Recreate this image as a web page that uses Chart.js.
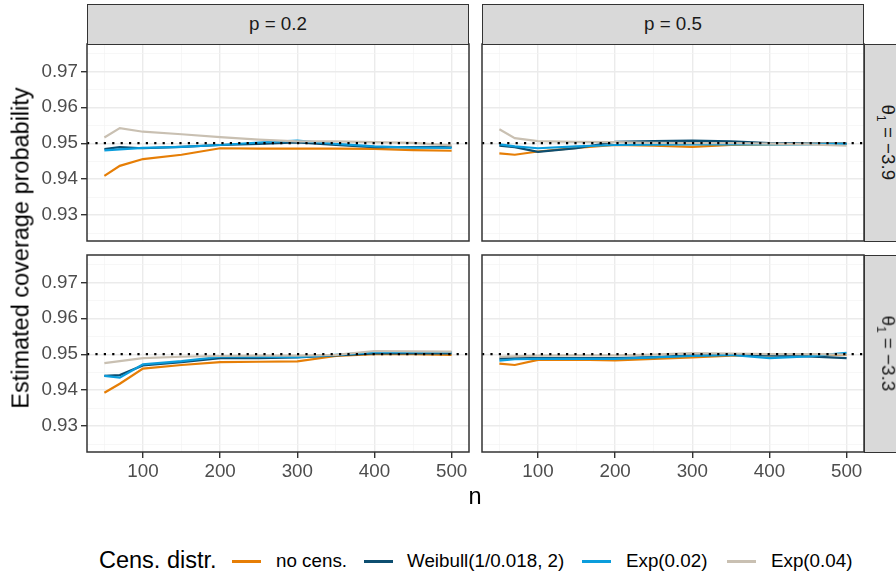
<!DOCTYPE html>
<html>
<head>
<meta charset="utf-8">
<script src="https://cdn.jsdelivr.net/npm/chart.js@4.4.1/dist/chart.umd.min.js"></script>
<style>
  body { margin: 0; width: 896px; height: 576px; background: #fff; position: relative; overflow: hidden;
         font-family: "Liberation Sans", Arial, sans-serif; }
  canvas { position: absolute; }
  .strip { position: absolute; box-sizing: border-box; background: #d9d9d9; border: 1.5px solid #333;
           color: #1a1a1a; font-size: 18.8px; display: flex; align-items: center; justify-content: center; }
  .strip-r span { transform: rotate(90deg); white-space: nowrap; display: inline-block; margin-left: 6px; }
  .title { position: absolute; color: #000; font-size: 23.5px; white-space: nowrap; }
  .key { position: absolute; height: 2.6px; width: 29px; top: 560px; }
  .lab { position: absolute; top: 550px; font-size: 18.8px; color: #000; white-space: nowrap; }
</style>
</head>
<body>
<canvas id="cTL" width="471" height="229" style="left:14px;top:28px"></canvas>
<canvas id="cTR" width="414" height="229" style="left:466px;top:28px"></canvas>
<canvas id="cBL" width="471" height="269" style="left:14px;top:239px"></canvas>
<canvas id="cBR" width="414" height="269" style="left:466px;top:239px"></canvas>

<div class="strip" style="left:87px;top:4px;width:382px;height:40.5px">p = 0.2</div>
<div class="strip" style="left:482px;top:4px;width:382px;height:40.5px">p = 0.5</div>
<div class="strip strip-r" style="left:864px;top:44px;width:40px;height:197.5px"><span>θ<sub style="font-size:12px">1</sub> = −3.9</span></div>
<div class="strip strip-r" style="left:864px;top:255px;width:40px;height:197.5px"><span>θ<sub style="font-size:12px">1</sub> = −3.3</span></div>

<div class="title" style="left:21px;top:248px;transform:translate(-50%,-50%) rotate(-90deg)">Estimated coverage probability</div>
<div class="title" style="left:475px;top:483px;transform:translateX(-50%)">n</div>

<div class="title" style="left:99px;top:547px">Cens. distr.</div>
<div class="key" style="left:232px;background:#e67e06"></div>
<div class="lab" style="left:276px">no cens.</div>
<div class="key" style="left:364px;background:#0d4e70"></div>
<div class="lab" style="left:407px">Weibull(1/0.018, 2)</div>
<div class="key" style="left:582px;background:#0b9ddc"></div>
<div class="lab" style="left:626px">Exp(0.02)</div>
<div class="key" style="left:727px;background:#c9c0b2"></div>
<div class="lab" style="left:771px">Exp(0.04)</div>

<script>
// Sample sizes on the x axis
const nValues = [50, 70, 100, 150, 200, 250, 300, 350, 400, 450, 500];
const NOMINAL = 0.95;

// Axis ticks (major + minor grid positions)
const xTicks = [50, 100, 150, 200, 250, 300, 350, 400, 450, 500];
const yTicks = [0.925, 0.93, 0.935, 0.94, 0.945, 0.95, 0.955, 0.96, 0.965, 0.97, 0.975];
const X_MIN = 27.5, X_MAX = 522.5;
const Y_MIN = 0.9228, Y_MAX = 0.9776;

const seriesNames = ['no cens.', 'Weibull(1/0.018, 2)', 'Exp(0.02)', 'Exp(0.04)'];
const seriesColors = ['#e67e06', '#0d4e70', '#0b9ddc', '#c9c0b2'];

// p = 0.2, theta1 = -3.9
const a_noCens  = [0.9409, 0.9437, 0.9456, 0.9468, 0.9486, 0.9485, 0.9485, 0.9485, 0.9484, 0.9481, 0.9479];
const a_weibull = [0.9484, 0.9489, 0.9486, 0.9490, 0.9495, 0.9498, 0.9502, 0.9495, 0.9489, 0.9489, 0.9490];
const a_exp002  = [0.9480, 0.9483, 0.9487, 0.9490, 0.9495, 0.9502, 0.9507, 0.9498, 0.9491, 0.9488, 0.9487];
const a_exp004  = [0.9516, 0.9542, 0.9532, 0.9525, 0.9517, 0.9510, 0.9505, 0.9505, 0.9503, 0.9501, 0.9494];

// p = 0.5, theta1 = -3.9
const b_noCens  = [0.9472, 0.9468, 0.9477, 0.9487, 0.9495, 0.9493, 0.9490, 0.9495, 0.9497, 0.9498, 0.9498];
const b_weibull = [0.9493, 0.9489, 0.9476, 0.9486, 0.9504, 0.9506, 0.9507, 0.9505, 0.9500, 0.9499, 0.9499];
const b_exp002  = [0.9497, 0.9491, 0.9486, 0.9491, 0.9495, 0.9496, 0.9497, 0.9497, 0.9497, 0.9497, 0.9498];
const b_exp004  = [0.9539, 0.9514, 0.9506, 0.9504, 0.9503, 0.9501, 0.9500, 0.9500, 0.9499, 0.9497, 0.9493];

// p = 0.2, theta1 = -3.3
const c_noCens  = [0.9393, 0.9418, 0.9460, 0.9470, 0.9478, 0.9479, 0.9480, 0.9495, 0.9500, 0.9500, 0.9498];
const c_weibull = [0.9440, 0.9442, 0.9469, 0.9478, 0.9489, 0.9489, 0.9491, 0.9497, 0.9502, 0.9502, 0.9502];
const c_exp002  = [0.9440, 0.9435, 0.9472, 0.9481, 0.9493, 0.9493, 0.9492, 0.9498, 0.9506, 0.9506, 0.9506];
const c_exp004  = [0.9475, 0.9481, 0.9489, 0.9493, 0.9495, 0.9496, 0.9496, 0.9498, 0.9509, 0.9508, 0.9507];

// p = 0.5, theta1 = -3.3
const d_noCens  = [0.9474, 0.9470, 0.9484, 0.9485, 0.9483, 0.9487, 0.9491, 0.9496, 0.9497, 0.9498, 0.9498];
const d_weibull = [0.9488, 0.9489, 0.9489, 0.9489, 0.9489, 0.9492, 0.9497, 0.9498, 0.9497, 0.9494, 0.9489];
const d_exp002  = [0.9482, 0.9486, 0.9487, 0.9487, 0.9487, 0.9491, 0.9495, 0.9498, 0.9489, 0.9494, 0.9504];
const d_exp004  = [0.9493, 0.9494, 0.9496, 0.9497, 0.9497, 0.9499, 0.9503, 0.9502, 0.9500, 0.9500, 0.9499];

const FONT = '"Liberation Sans", Arial, sans-serif';
const PAD = 16; // fixed canvas padding, bigger than the tick-label overflow

function isMajorX(v) { return Math.abs(v / 100 - Math.round(v / 100)) < 1e-9; }
function isMajorY(v) { return Math.abs(v * 100 - Math.round(v * 100)) < 1e-6; }

// draws the dark panel border like ggplot's theme_bw
const panelBorder = {
  id: 'panelBorder',
  afterDatasetsDraw(chart) {
    const a = chart.chartArea, ctx = chart.ctx;
    ctx.save();
    ctx.strokeStyle = '#333';
    ctx.lineWidth = 1.5;
    ctx.strokeRect(a.left, a.top, a.right - a.left, a.bottom - a.top);
    ctx.restore();
  }
};

function makePanel(id, series, showX, showY) {
  const datasets = [{
    label: 'nominal',
    data: [{ x: X_MIN, y: NOMINAL }, { x: X_MAX, y: NOMINAL }],
    borderColor: '#000',
    borderWidth: 2.2,
    borderDash: [2.2, 6.2],
    pointRadius: 0,
    order: 0
  }];
  series.forEach((vals, i) => {
    datasets.push({
      label: seriesNames[i],
      data: nValues.map((n, j) => ({ x: n, y: vals[j] })),
      borderColor: seriesColors[i],
      borderWidth: 2.2,
      pointRadius: 0,
      tension: 0,
      order: 4 - i
    });
  });

  new Chart(document.getElementById(id), {
    type: 'line',
    data: { datasets },
    plugins: [panelBorder],
    options: {
      responsive: false,
      animation: false,
      events: [],
      layout: { padding: PAD },
      plugins: { legend: { display: false }, tooltip: { enabled: false } },
      scales: {
        x: {
          type: 'linear',
          min: X_MIN,
          max: X_MAX,
          afterBuildTicks: (scale) => { scale.ticks = xTicks.map(v => ({ value: v })); },
          afterFit: (scale) => { scale.height = showX ? 40 : 0; },
          border: { display: false },
          grid: {
            color: (c) => isMajorX(c.tick.value) ? '#ebebeb' : '#f4f4f4',
            lineWidth: (c) => isMajorX(c.tick.value) ? 1.4 : 0.7,
            drawTicks: showX,
            tickLength: 6,
            tickWidth: 1.4,
            tickColor: (c) => isMajorX(c.tick.value) ? '#333' : 'rgba(0,0,0,0)'
          },
          ticks: {
            display: showX,
            autoSkip: false,
            maxRotation: 0,
            padding: 3,
            color: '#4d4d4d',
            font: { family: FONT, size: 18.8 },
            callback: (v) => isMajorX(v) ? String(v) : ''
          }
        },
        y: {
          type: 'linear',
          min: Y_MIN,
          max: Y_MAX,
          afterBuildTicks: (scale) => { scale.ticks = yTicks.map(v => ({ value: v })); },
          afterFit: (scale) => { scale.width = showY ? 57 : 0; },
          border: { display: false },
          grid: {
            color: (c) => isMajorY(c.tick.value) ? '#ebebeb' : '#f4f4f4',
            lineWidth: (c) => isMajorY(c.tick.value) ? 1.4 : 0.7,
            drawTicks: showY,
            tickLength: 6,
            tickWidth: 1.4,
            tickColor: (c) => isMajorY(c.tick.value) ? '#333' : 'rgba(0,0,0,0)'
          },
          ticks: {
            display: showY,
            autoSkip: false,
            padding: 3,
            color: '#4d4d4d',
            font: { family: FONT, size: 18.8 },
            callback: (v) => isMajorY(v) ? v.toFixed(2) : ''
          }
        }
      }
    }
  });
}

makePanel('cTL', [a_noCens, a_weibull, a_exp002, a_exp004], false, true);
makePanel('cTR', [b_noCens, b_weibull, b_exp002, b_exp004], false, false);
makePanel('cBL', [c_noCens, c_weibull, c_exp002, c_exp004], true, true);
makePanel('cBR', [d_noCens, d_weibull, d_exp002, d_exp004], true, false);
</script>
</body>
</html>
